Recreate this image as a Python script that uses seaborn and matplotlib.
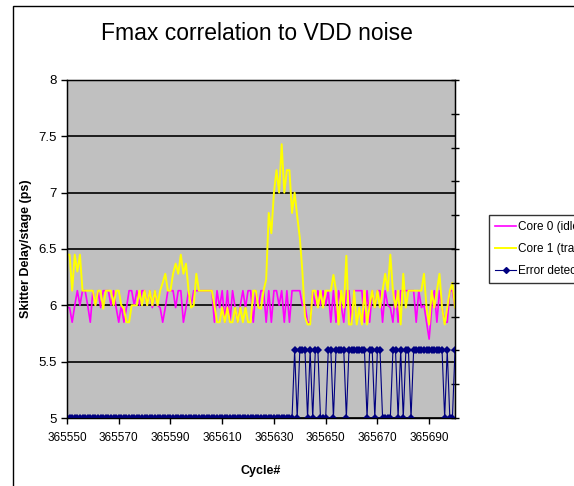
import numpy as np
import pandas as pd
import matplotlib
matplotlib.use("Agg")
import matplotlib.pyplot as plt
from matplotlib.patches import Rectangle
from matplotlib.lines import Line2D
import seaborn as sns

# Cycle numbers (one sample per cycle)
cycles = np.arange(365550, 365701)

# Skitter delay per stage (ps) for the idle core
core0_idle = [
    5.98, 5.98, 5.85, 6.00, 6.13, 6.00, 6.13, 6.13, 6.00, 5.85,
    6.13, 6.00, 6.13, 5.98, 6.13, 6.13, 6.13, 6.00, 6.13, 5.98,
    5.85, 6.00, 5.85, 5.98, 6.13, 6.13, 6.00, 6.13, 6.00, 6.13,
    6.13, 6.00, 6.13, 5.98, 6.13, 6.00, 5.98, 5.85,
    5.98, 6.13, 6.13, 6.13, 5.98, 6.13, 6.13, 5.85, 5.98, 6.13,
    6.00, 6.13, 6.13, 6.13, 6.13, 6.13, 6.13, 6.13, 6.13, 5.85,
    6.13, 5.98, 6.13, 5.85, 6.13, 5.85, 6.13, 5.98, 5.85, 6.00,
    6.13, 5.98, 6.13, 6.13, 5.85, 6.13, 5.98,
    6.13, 6.13, 5.85, 6.13, 5.85, 6.13, 6.13, 6.00, 6.13, 5.85,
    6.13, 5.85, 6.13, 6.13, 6.13, 6.13, 6.00, 6.00, 5.85, 5.85,
    6.13, 6.00, 6.13, 6.00, 6.13, 6.00, 6.13, 5.85, 6.13, 5.85,
    6.13, 6.00, 5.85, 6.13, 6.13, 5.85, 6.13, 6.13,
    6.13, 6.13, 5.85, 6.13, 5.85, 6.13, 5.98, 6.13, 6.13, 5.85,
    6.13, 6.00, 5.98, 5.85, 6.13, 5.85, 6.13, 6.13, 6.13, 6.13,
    6.13, 6.13, 5.85, 6.13, 5.98, 6.00, 5.85, 5.70, 5.98, 6.13,
    5.85, 6.13, 5.98, 5.85, 5.85, 6.13, 6.13, 5.98,
]

# Skitter delay per stage (ps) for the thrashing core
core1_trash = [
    6.45, 6.45, 6.13, 6.45, 6.30, 6.45, 6.13, 6.13, 6.13, 6.13,
    6.13, 6.00, 6.13, 6.13, 5.97, 6.13, 6.13, 6.13, 6.00, 6.13,
    6.13, 6.00, 5.97, 5.85, 5.85, 6.00, 6.00, 6.00, 6.13, 6.00,
    6.13, 6.00, 6.13, 6.00, 6.13, 6.00, 6.13,
    6.20, 6.28, 6.13, 6.13, 6.28, 6.37, 6.28, 6.45, 6.28, 6.37,
    6.13, 5.98, 6.00, 6.28, 6.13, 6.13, 6.13, 6.13, 6.13, 6.13,
    6.00, 5.85, 5.85, 5.98, 5.85, 5.98, 5.85, 5.85, 5.98, 5.85,
    5.98, 5.85, 5.98, 5.85, 5.85, 6.13, 6.13, 5.98,
    5.97, 6.13, 6.23, 6.82, 6.64, 7.00, 7.20, 7.00, 7.43, 7.00,
    7.20, 7.20, 6.82, 7.00, 6.79, 6.60, 6.30, 5.90, 5.83, 5.83,
    6.13, 6.13, 5.98, 6.13, 5.98, 6.13, 6.13, 6.13, 6.27, 6.13,
    5.83, 6.13, 5.98, 6.44, 5.83, 5.83, 6.13, 5.83,
    5.98, 5.83, 6.13, 5.83, 6.00, 6.13, 5.98, 6.13, 5.98, 6.13,
    6.28, 6.13, 6.45, 6.13, 5.98, 6.13, 5.83, 6.28, 5.98, 6.13,
    6.13, 6.13, 6.13, 6.13, 6.13, 6.28, 5.98, 5.83, 6.13, 5.98,
    6.13, 6.28, 5.98, 5.83, 5.98, 6.13, 6.20, 5.98,
]

# Error detect flag (secondary axis)
error_detect = [0] * 88 + [
    1, 0, 1, 1, 1, 0, 1, 0, 1, 1,
    0, 0, 0, 1, 1, 0, 1, 1, 1, 1,
    0, 1, 1, 1, 1, 1, 1, 1, 0, 1,
    1, 0, 1, 1, 0, 0, 0, 0, 1, 1,
    0, 1, 0, 1, 1, 0, 1, 1, 1, 1,
    1, 1, 1, 1, 1, 1, 1, 1, 0, 1,
    0, 0, 1,
]

series_names = ["Core 0 (idle)", "Core 1 (trashing)", "Error detected"]
y_ticks = [5, 5.5, 6, 6.5, 7, 7.5, 8]
y_tick_labels = ["5", "5.5", "6", "6.5", "7", "7.5", "8"]
x_ticks = [365550, 365570, 365590, 365610, 365630, 365650, 365670, 365690]

df = pd.DataFrame({"cycle": cycles, "core0": core0_idle,
                   "core1": core1_trash, "err": error_detect})

plt.rcParams["font.family"] = ["Liberation Sans", "DejaVu Sans"]

fig = plt.figure(figsize=(5.74, 4.86), dpi=100)
fig.patch.set_facecolor("white")

# chart frame
fig.add_artist(Rectangle((13 / 574, -0.1), 1.2, 1 - 6 / 486 + 0.1,
                         transform=fig.transFigure, fill=False,
                         edgecolor="black", linewidth=1.0))

ax = fig.add_axes([67 / 574, 1 - 418 / 486, 388 / 574, 338 / 486])
ax.set_facecolor("#C0C0C0")

sns.lineplot(data=df, x="cycle", y="core0", ax=ax, color="#FF00FF",
             linewidth=1.2, label=series_names[0], legend=False)
sns.lineplot(data=df, x="cycle", y="core1", ax=ax, color="#FFFF00",
             linewidth=1.4, label=series_names[1], legend=False)

ax.set_xlim(cycles[0], cycles[-1])
ax.set_ylim(5, 8)
ax.set_yticks(y_ticks)
ax.set_yticklabels(y_tick_labels, fontsize=9.5)
ax.set_xticks(x_ticks)
ax.set_xticklabels([str(v) for v in x_ticks], fontsize=8.5)
ax.grid(axis="y", color="black", linewidth=1.2)
ax.grid(axis="x", visible=False)
ax.set_axisbelow(True)
ax.tick_params(axis="both", direction="out", length=4, width=1, color="black")
ax.tick_params(axis="x", pad=6)
for s in ax.spines.values():
    s.set_color("black")
    s.set_linewidth(1.0)
ax.set_xlabel("Cycle#", fontsize=9, fontweight="bold")
ax.xaxis.set_label_coords(0.5, -(465 - 418) / 338)
ax.set_ylabel("Skitter Delay/stage (ps)", fontsize=9, fontweight="bold")
ax.yaxis.set_label_coords(-(67 - 32) / 388, 0.5)

ax2 = ax.twinx()
sns.lineplot(data=df, x="cycle", y="err", ax=ax2, color="#000080",
             linewidth=0.8, marker="D", markersize=4, markeredgewidth=0,
             label=series_names[2], legend=False)
ax2.set_ylim(0, 5)
ax2.set_yticks(np.arange(0, 5.01, 0.5))
ax2.set_yticklabels([])
ax2.set_ylabel("")
ax2.tick_params(axis="y", direction="inout", length=6, width=1, color="black")
ax2.set_xlim(cycles[0], cycles[-1])
for s in ax2.spines.values():
    s.set_color("black")

fig.text(257 / 574, 1 - 34 / 486, "Fmax correlation to VDD noise",
         ha="center", va="center", fontsize=16.5)

handles = [
    Line2D([], [], color="#FF00FF", linewidth=1.2),
    Line2D([], [], color="#FFFF00", linewidth=1.4),
    Line2D([], [], color="#000080", linewidth=0.8, marker="D", markersize=3),
]
leg = fig.legend(handles, series_names, loc="upper left",
                 bbox_to_anchor=(489 / 574, 1 - 215 / 486),
                 frameon=True, fancybox=False, edgecolor="black",
                 prop={"size": 8.5}, handlelength=1.8, handletextpad=0.15,
                 borderpad=0.5, labelspacing=0.85, borderaxespad=0)
leg.get_frame().set_linewidth(1.0)

fig.savefig("out.png", dpi=100)
